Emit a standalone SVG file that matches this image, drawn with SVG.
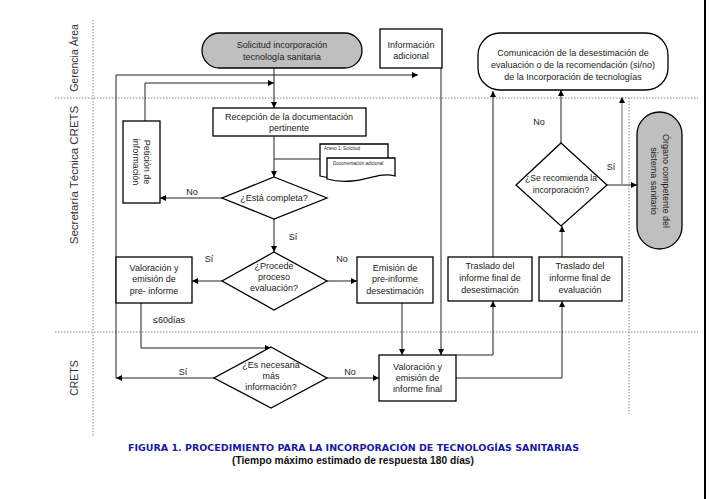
<svg xmlns="http://www.w3.org/2000/svg" width="709" height="499" viewBox="0 0 709 499">
<defs>
<marker id="ah" markerUnits="userSpaceOnUse" markerWidth="6" markerHeight="6" refX="6" refY="3" orient="auto"><path d="M0,0 L6,3 L0,6 z" fill="#000"/></marker>
<marker id="ahg" markerUnits="userSpaceOnUse" markerWidth="6" markerHeight="6" refX="6" refY="3" orient="auto"><path d="M0,0 L6,3 L0,6 z" fill="#000"/></marker>
<style>
.box{fill:#fff;stroke:#000;stroke-width:1.3}
.term{fill:#bfbfbf;stroke:#000;stroke-width:1.3}
.dia{fill:#fff;stroke:#000;stroke-width:1.3}
.ln{fill:none;stroke:#222;stroke-width:1}
.lg{fill:none;stroke:#999;stroke-width:1.5}
.dot{fill:none;stroke:#888;stroke-width:1;stroke-dasharray:1.5,1.5}
text{font-family:"Liberation Sans",Arial,sans-serif;font-size:9px;fill:#222}
.c{text-anchor:middle}
.lane{font-size:10.5px;fill:#333}
.doc{font-size:4.5px}
</style>
</defs>
<rect width="709" height="499" fill="#fff"/>
<line x1="705" y1="0" x2="705" y2="499" stroke="#000" stroke-width="2"/>
<g id="lanes">
<line class="dot" x1="55" y1="98" x2="698" y2="98"/>
<line class="dot" x1="55" y1="332" x2="698" y2="332"/>
<line class="dot" x1="93" y1="20" x2="93" y2="437"/>
<line class="dot" x1="629" y1="98" x2="629" y2="414"/>
<text class="c lane" transform="translate(78,58) rotate(-90)">Gerencia Área</text>
<text class="c lane" style="font-size:11.5px" transform="translate(78,175) rotate(-90)">Secretaría Técnica CRETS</text>
<text class="c lane" transform="translate(78,378) rotate(-90)">CRETS</text>
</g>
<g id="connectors">
<path class="ln" d="M274,68 V108" marker-end="url(#ah)"/>
<path class="ln" d="M145,121 V83 H274" marker-end="url(#ah)"/>
<path class="ln" d="M274,136 V177" marker-end="url(#ah)"/>
<path class="ln" d="M274,159 H320"/>
<path class="ln" d="M222,198 H160" marker-end="url(#ah)"/>
<path class="ln" d="M274,219 V252" marker-end="url(#ah)"/>
<path class="ln" d="M222,281 H192" marker-end="url(#ah)"/>
<path class="ln" d="M327,281 H357" marker-end="url(#ah)"/>
<path class="ln" d="M141,303 V348 H271" marker-end="url(#ah)"/>
<path class="ln" d="M214,378 H116" marker-end="url(#ah)"/>
<path class="ln" d="M116,378 V75 H418" marker-end="url(#ah)"/>
<path class="ln" d="M327,378 H379" marker-end="url(#ah)"/>
<path class="ln" d="M402,303 V355" marker-end="url(#ah)"/>
<path class="ln" d="M441,68 V355" marker-end="url(#ah)"/>
<path class="ln" d="M456,355 H493 V301" marker-end="url(#ah)"/>
<path class="ln" d="M456,378 H562 V301" marker-end="url(#ah)"/>
<path class="ln" d="M493,257 V91" marker-end="url(#ah)"/>
<path class="ln" d="M562,257 V226" marker-end="url(#ah)"/>
<path class="ln" d="M561,143 V90" marker-end="url(#ah)"/>
<path class="ln" d="M607,185 H637" marker-end="url(#ah)"/>
<path class="lg" d="M622,185 V97" marker-end="url(#ahg)"/>
<text class="c" x="192" y="195">No</text>
<text class="c" x="293" y="240">Sí</text>
<text class="c" x="209" y="262">Sí</text>
<text class="c" x="342" y="262">No</text>
<text x="153" y="323">≤60días</text>
<text class="c" x="183" y="375">Sí</text>
<text class="c" x="350" y="375">No</text>
<text class="c" x="539" y="125">No</text>
<text class="c" x="611" y="170">Sí</text>
</g>
<g id="start">
<rect class="term" x="202" y="33" width="160" height="35" rx="17.5"/>
<text class="c" x="282" y="48">Solicitud incorporación</text>
<text class="c" x="282" y="60">tecnología sanitaria</text>
</g>
<g id="info-adicional">
<rect class="box" x="380" y="29" width="62" height="39"/>
<text class="c" x="411" y="48">Información</text>
<text class="c" x="411" y="59">adicional</text>
</g>
<g id="comunicacion">
<rect class="box" x="478" y="33" width="190" height="57" rx="22"/>
<text class="c" x="573" y="56">Comunicación de la desestimación de</text>
<text class="c" x="573" y="68">evaluación o de la recomendación (si/no)</text>
<text class="c" x="573" y="80">de la Incorporación de tecnologías</text>
</g>
<g id="recepcion">
<rect class="box" x="213" y="108" width="153" height="28"/>
<text class="c" x="289" y="120">Recepción de la documentación</text>
<text class="c" x="289" y="131">pertinente</text>
</g>
<g id="peticion">
<rect class="box" x="123" y="121" width="37" height="82"/>
<text class="c" transform="translate(141.5,162) rotate(90)"><tspan x="0" y="-2.5">Petición de</tspan><tspan x="0" y="8.5">información</tspan></text>
</g>
<g id="documentos">
<path class="box" stroke-width="0.8" d="M320,144 H388 V172 C375,168 360,176 345,178 C335,179 327,178 320,176 Z"/>
<text class="doc" x="324" y="150">Anexo 1: Solicitud</text>
<path class="box" stroke-width="0.8" d="M327,158 H395 V176 C382,172 367,180 352,181 C342,182 334,181 327,179 Z"/>
<text class="doc" x="333" y="165">Documentación adicional</text>
</g>
<g id="esta-completa">
<polygon class="dia" points="274,177 327,198 274,219 222,198"/>
<text class="c" x="274" y="201">¿Está completa?</text>
</g>
<g id="procede">
<polygon class="dia" points="274,252 327,281 274,310 222,281"/>
<text class="c" x="274" y="269">¿Procede</text>
<text class="c" x="274" y="280">proceso</text>
<text class="c" x="274" y="291">evaluación?</text>
</g>
<g id="valoracion-pre">
<rect class="box" x="116" y="257" width="76" height="46"/>
<text class="c" x="154" y="271">Valoración y</text>
<text class="c" x="154" y="282">emisión de</text>
<text class="c" x="154" y="294">pre- informe</text>
</g>
<g id="emision">
<rect class="box" x="357" y="257" width="76" height="46"/>
<text class="c" x="395" y="271">Emisión de</text>
<text class="c" x="395" y="282">pre-informe</text>
<text class="c" x="395" y="294">desestimación</text>
</g>
<g id="traslado-desestimacion">
<rect class="box" x="448" y="257" width="84" height="44"/>
<text class="c" x="490" y="269">Traslado del</text>
<text class="c" x="490" y="281">informe final de</text>
<text class="c" x="490" y="292.5">desestimación</text>
</g>
<g id="traslado-evaluacion">
<rect class="box" x="539" y="257" width="83" height="44"/>
<text class="c" x="580" y="269">Traslado del</text>
<text class="c" x="580" y="281">informe final de</text>
<text class="c" x="580" y="292.5">evaluación</text>
</g>
<g id="se-recomienda">
<polygon class="dia" points="561,143 607,185 561,226 516,185"/>
<text class="c" x="561" y="181" style="font-size:8.6px">¿Se recomienda la</text>
<text class="c" x="561" y="193" style="font-size:8.6px">incorporación?</text>
</g>
<g id="organo">
<rect class="term" x="637" y="112" width="45" height="137" rx="22.5"/>
<text class="c" transform="translate(659.5,181) rotate(90)"><tspan x="0" y="-3">Órgano competente del</tspan><tspan x="0" y="9">sistema sanitario</tspan></text>
</g>
<g id="es-necesaria">
<polygon class="dia" points="271,347 327,378 271,408 214,378"/>
<text class="c" x="271" y="368">¿Es necesaria</text>
<text class="c" x="271" y="379">más</text>
<text class="c" x="271" y="390">información?</text>
</g>
<g id="valoracion-final">
<rect class="box" x="379" y="355" width="77" height="46"/>
<text class="c" x="417.5" y="370">Valoración y</text>
<text class="c" x="417.5" y="381">emisión de</text>
<text class="c" x="417.5" y="392">informe final</text>
</g>
<g id="caption">
<text x="128" y="450.5" textLength="451" lengthAdjust="spacingAndGlyphs" style="font-family:'DejaVu Sans',Verdana,sans-serif;font-weight:bold;font-size:9.5px;fill:#1a1a99">FIGURA 1. PROCEDIMIENTO PARA LA INCORPORACIÓN DE TECNOLOGÍAS SANITARIAS</text>
<text x="232" y="463.5" textLength="242" lengthAdjust="spacingAndGlyphs" style="font-weight:bold;font-size:11px;fill:#111">(Tiempo máximo estimado de respuesta 180 días)</text>
</g>
</svg>
